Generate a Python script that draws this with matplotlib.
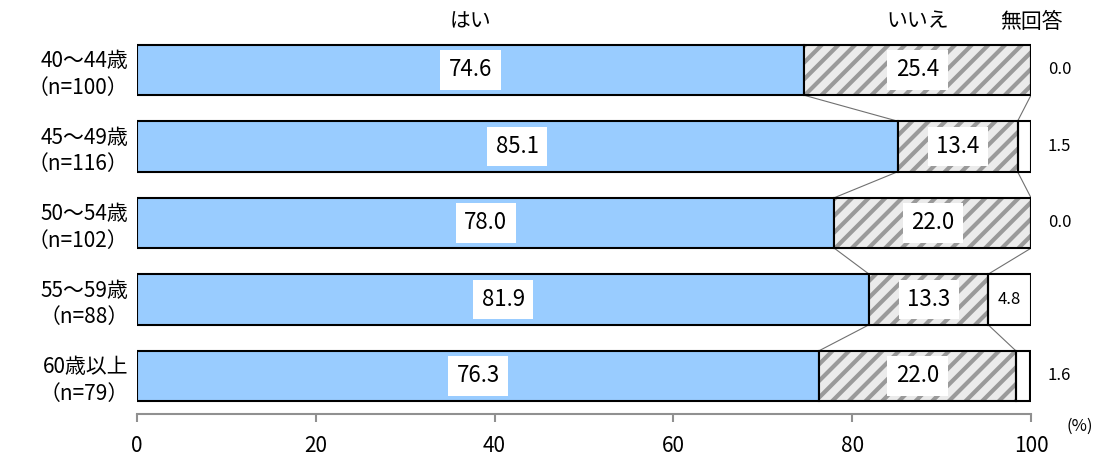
# 年齢層別の回答割合（帯グラフ）
import matplotlib
matplotlib.use("Agg")
import matplotlib.pyplot as plt

plt.rcParams['font.family'] = ['Noto Sans CJK JP', 'DejaVu Sans']
plt.rcParams['hatch.linewidth'] = 3.0

categories = ["40〜44歳\n（n=100）", "45〜49歳\n（n=116）", "50〜54歳\n（n=102）",
              "55〜59歳\n（n=88）", "60歳以上\n（n=79）"]
hai = [74.6, 85.1, 78.0, 81.9, 76.3]
iie = [25.4, 13.4, 22.0, 13.3, 22.0]
mukaito = [0.0, 1.5, 0.0, 4.8, 1.6]
series_names = ["はい", "いいえ", "無回答"]
xticks = [0, 20, 40, 60, 80, 100]

fig = plt.figure(figsize=(10.94, 4.62), dpi=100)
ax = fig.add_axes([0.1252, 0.1034, 0.8172, 0.828])

h = 0.66
ys = list(range(len(categories)))

# はい
ax.barh(ys, hai, height=h, color="#99CCFF", edgecolor="black", linewidth=1.5, zorder=2)
# いいえ（斜線）
ax.barh(ys, iie, left=hai, height=h, color="#EBEBEB", edgecolor="#9A9A9A",
        hatch="//", linewidth=0, zorder=2)
ax.barh(ys, iie, left=hai, height=h, fill=False, edgecolor="black", linewidth=1.5, zorder=3)
# 無回答
left3 = [a + b for a, b in zip(hai, iie)]
ax.barh(ys, mukaito, left=left3, height=h, color="white", edgecolor="black",
        linewidth=1.5, zorder=2)

# 区分線
for i in range(len(categories) - 1):
    for a, b in [(hai[i], hai[i + 1]), (left3[i], left3[i + 1])]:
        ax.plot([a, b], [i + h / 2, i + 1 - h / 2], color="#707070", lw=0.8, zorder=1)

box = dict(facecolor="white", edgecolor="none", pad=6)
for i in ys:
    ax.text(hai[i] / 2, i, f"{hai[i]:.1f}", ha="center", va="center",
            fontsize=16, bbox=box, zorder=4)
    ax.text(hai[i] + iie[i] / 2, i, f"{iie[i]:.1f}", ha="center", va="center",
            fontsize=16, bbox=box, zorder=4)
    if mukaito[i] >= 3:
        ax.text(left3[i] + mukaito[i] / 2, i, f"{mukaito[i]:.1f}", ha="center",
                va="center", fontsize=12, zorder=4)
    else:
        ax.text(103.2, i, f"{mukaito[i]:.1f}", ha="center", va="center",
                fontsize=12, clip_on=False)

# 系列名
ax.text(hai[0] / 2, -0.63, series_names[0], ha="center", va="center", fontsize=15)
ax.text(hai[0] + iie[0] / 2, -0.63, series_names[1], ha="center", va="center", fontsize=15)
ax.text(100, -0.63, series_names[2], ha="center", va="center", fontsize=15)
ax.text(105.5, 4.66, "(%)", ha="center", va="center", fontsize=12, clip_on=False)

ax.set_xlim(0, 100)
ax.set_ylim(4.5, -0.5)
ax.set_xticks(xticks)
ax.set_xticklabels([str(v) for v in xticks], fontsize=15)
ax.set_yticks(ys)
ax.set_yticklabels(categories, fontsize=15, linespacing=1.25)
ax.tick_params(axis="y", length=0, pad=6)
ax.tick_params(axis="x", length=6, color="#909090", width=1.5, pad=9)
for s in ["top", "right", "left"]:
    ax.spines[s].set_visible(False)
ax.spines["bottom"].set_color("#909090")
ax.spines["bottom"].set_linewidth(1.5)

fig.savefig("out.png", dpi=100)
